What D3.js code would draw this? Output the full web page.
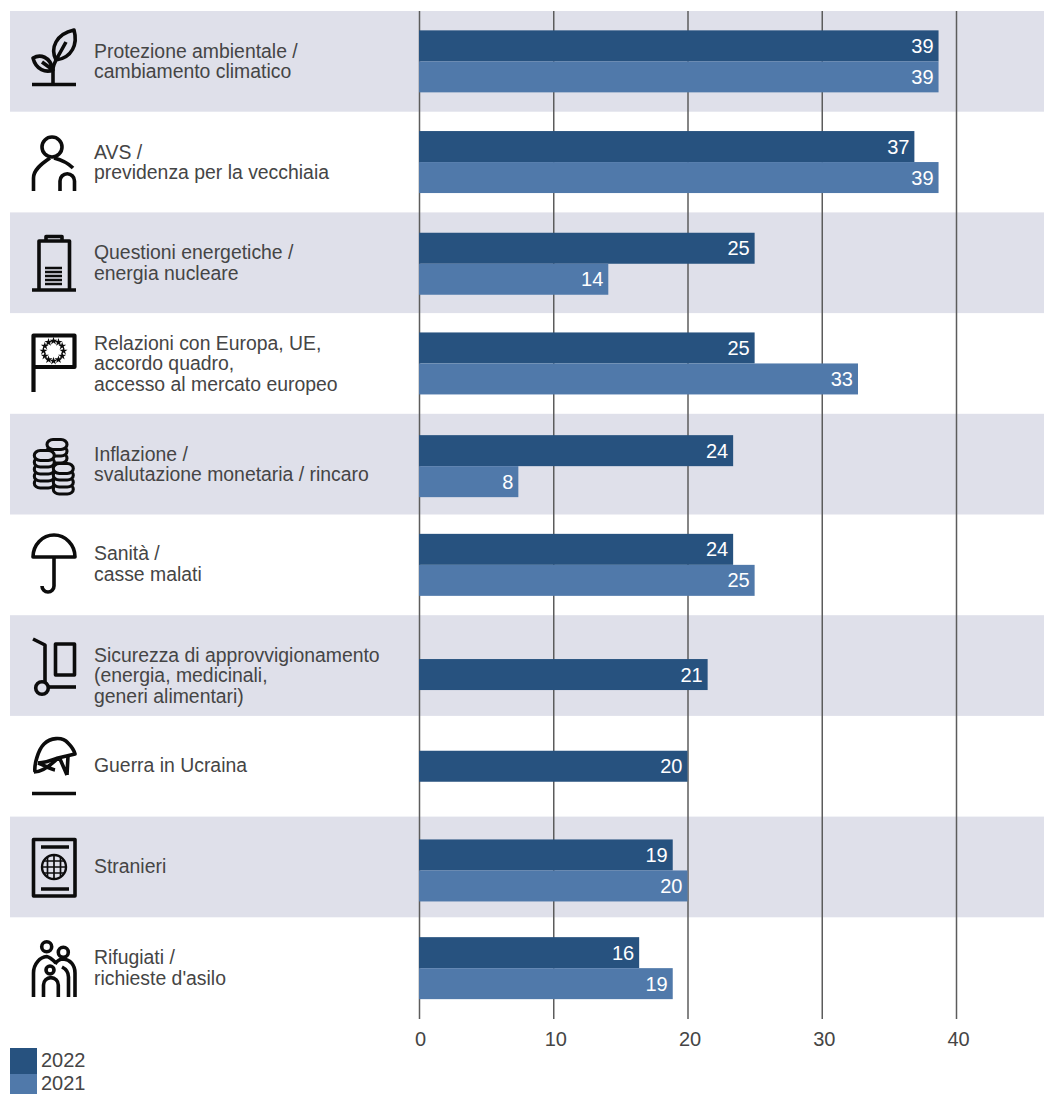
<!DOCTYPE html>
<html><head><meta charset="utf-8">
<script src="https://cdn.jsdelivr.net/npm/d3@7"></script>
<style>
html,body{margin:0;padding:0;background:#fff;overflow:hidden}
svg{display:block}
text{font-family:"Liberation Sans",Arial,sans-serif}
</style></head><body>
<svg id="chart" width="1044" height="1094"></svg>
<script>
const categories = [
  ["Protezione ambientale /","cambiamento climatico"],
  ["AVS /","previdenza per la vecchiaia"],
  ["Questioni energetiche /","energia nucleare"],
  ["Relazioni con Europa, UE,","accordo quadro,","accesso al mercato europeo"],
  ["Inflazione /","svalutazione monetaria / rincaro"],
  ["Sanità /","casse malati"],
  ["Sicurezza di approvvigionamento","(energia, medicinali,","generi alimentari)"],
  ["Guerra in Ucraina"],
  ["Stranieri"],
  ["Rifugiati /","richieste d'asilo"]
];
const values2022 = [38.7,36.9,25,25,23.4,23.4,21.5,20,18.9,16.4];
const values2021 = [38.7,38.7,14.1,32.7,7.4,25,null,null,20,18.9];
const labels2022 = [39,37,25,25,24,24,21,20,19,16];
const labels2021 = [39,39,14,33,8,25,null,null,20,19];
const xTicks = [0,10,20,30,40];
const years = ["2022","2021"];

const COLORS = {"2022":"#27527f","2021":"#5079aa"};
const BAND = "#dfe0ea", GRID = "#5c5c5c", TEXT = "#454545", INK = "#0c0c0c";
const barNudge = [0,0,1,0,2,0,9,0,3.5,0.5];
const labelNudge = [0,0,0,0,0,-1,10,-1,-1,0];

const svg = d3.select("#chart");
const x = d3.scaleLinear().domain([0,40]).range([419,956]);
const y = d3.scaleBand().domain(d3.range(categories.length)).range([11,1018]);
const BAR_H = 31;

svg.append("g").selectAll("rect")
  .data(d3.range(categories.length).filter(i=>i%2===0))
  .join("rect")
  .attr("x",10).attr("width",1034)
  .attr("y",i=>y(i)).attr("height",y.bandwidth()).attr("fill",BAND);

const axis = d3.axisBottom(x).tickValues(xTicks).tickSize(1008).tickPadding(13).tickFormat(d3.format("d"));
const ag = svg.append("g").attr("transform","translate(0,11)").call(axis);
ag.select(".domain").remove();
ag.selectAll(".tick line").attr("stroke",GRID).attr("stroke-width",1.5);
ag.selectAll(".tick text").attr("fill",TEXT).style("font-size","20px")
  .attr("dx",d=>d===0?1:2);

const rows = categories.map((c,i)=>({i,c,a:values2022[i],b:values2021[i],la:labels2022[i],lb:labels2021[i]}));
const barG = svg.append("g");
rows.forEach(r=>{
  const cy = y(r.i)+y.bandwidth()/2+barNudge[r.i];
  const both = r.b!==null;
  const items = both
    ? [{v:r.a,l:r.la,yr:"2022",t:cy-BAR_H},{v:r.b,l:r.lb,yr:"2021",t:cy}]
    : [{v:r.a,l:r.la,yr:"2022",t:cy-BAR_H/2}];
  items.forEach(d=>{
    barG.append("rect").attr("x",x(0)).attr("y",d.t)
      .attr("width",x(d.v)-x(0)).attr("height",BAR_H).attr("fill",COLORS[d.yr]);
    barG.append("text").attr("x",x(d.v)-5).attr("y",d.t+BAR_H/2)
      .attr("dy","0.35em").attr("text-anchor","end").attr("fill","#fff")
      .style("font-size","20px").text(d.l);
  });
});

const lab = svg.append("g");
rows.forEach(r=>{
  const cy = y(r.i)+y.bandwidth()/2+labelNudge[r.i];
  const n = r.c.length, lh = 20.6;
  r.c.forEach((s,j)=>{
    lab.append("text").attr("x",94).attr("y",cy+(j-(n-1)/2)*lh)
      .attr("dy","0.35em").attr("fill",TEXT).style("font-size","19.4px").text(s);
  });
});

// icons (glyph geometry, page coordinates)
const ic = svg.append("g").attr("fill","none").attr("stroke",INK).attr("stroke-width",3.6)
  .attr("stroke-linecap","butt").attr("stroke-linejoin","round");
const P = (d,g=ic)=>g.append("path").attr("d",d);

// plant
P("M32 84.5H76 M53 84.5V66");
P("M56 60C50 48 56 34 74 30C78 44 72 58 56 60Z M53 68C54 64 55 62 56 60L66 42");
P("M53 70C46 73 36 70 33 58C40 54 50 56 53 70Z M42 62L53 70");
// person
ic.append("circle").attr("cx",52).attr("cy",147).attr("r",10);
P("M33.5 191V178C33.5 170 41 164 50 158 M54 158C62 160 69 164 73 168");
P("M60 191V181A7 7 0 0 1 74.5 181V191");
// battery
P("M32 290H76 M39 290V241H69.5V290 M46 241V236.5H62V241");
ic.append("g").attr("stroke-width",2.5).call(g=>{
  [268,272,276,280,284].forEach(v=>g.append("path").attr("d",`M45 ${v}H62`));
});
// flag
P("M33.5 392V335.5H74.5V367H33.5").attr("stroke-width",4.2);
const star = d3.symbol().type(d3.symbolStar).size(20);
d3.range(12).forEach(k=>{
  const a = k/12*2*Math.PI;
  ic.append("path").attr("d",star()).attr("fill",INK).attr("stroke","none")
    .attr("transform",`translate(${53.5+10*Math.cos(a)},${351+10*Math.sin(a)})`);
});
// coins
function stack(cx,top,n,fill){
  d3.range(n-1,-1,-1).forEach(k=>{
    ic.append("rect").attr("x",cx-10).attr("y",top+k*7).attr("width",20).attr("height",k===0?10:9.5)
      .attr("rx",6).attr("fill",fill).attr("stroke-width",3.1);
  });
}
stack(57,439.5,4,BAND);
stack(44.3,450.5,5,BAND);
stack(63.3,463.5,4,BAND);
// umbrella
P("M33 557A21 22 0 0 1 75 557Z M54 557V586A6 6 0 0 1 42 586");
// trolley
P("M33 639L45 645V682");
ic.append("circle").attr("cx",42).attr("cy",688).attr("r",6.3);
P("M48 687H76");
P("M55.5 644H74.5V675H55.5Z");
// helmet
P("M32 793.5H76");
P("M35 772C34 765 38 750 44 744C50 738 62 736 68 743C72 747 74 750 75 754L58 758C50 761 44 763 38 763");
P("M34 772C42 772 50 766 58 758 M38 763C44 765 50 769 55 770 M60 759L67 775 M68 756L67 775");
// passport
P("M33.5 839.5H75V896H33.5Z");
P("M41 847H69 M41 889H69");
ic.append("g").attr("stroke-width",1.7).call(g=>{
  g.append("circle").attr("cx",54).attr("cy",867).attr("r",12).attr("stroke-width",2.4);
  g.append("path").attr("d","M42 867H66 M44 861H64 M44 873H64 M54 855V879 M47.5 857V877 M60.5 857V877");
});
// refugees
ic.append("circle").attr("cx",46.7).attr("cy",946.7).attr("r",5);
ic.append("circle").attr("cx",63.3).attr("cy",952.3).attr("r",5);
ic.append("circle").attr("cx",50).attr("cy",970).attr("r",4);
P("M33.5 997V973C33.5 964 40 957 46.7 956.5C50 957 53 960 56 963");
P("M75 997V973C75 965 70 959.5 63.3 959C60 959 57 961 55 964");
P("M43.5 997V985A7.4 7.4 0 0 1 58.3 985V997");
P("M68.5 997V977C68.5 972 66 969 62 967");

// legend
const lg = svg.append("g");
years.forEach((yr,i)=>{
  lg.append("rect").attr("x",10).attr("y",1048+i*26).attr("width",27).attr("height",26).attr("fill",COLORS[yr]);
  lg.append("text").attr("x",41).attr("y",1059.5+i*23).attr("dy","0.36em")
    .attr("fill",TEXT).style("font-size","20px").text(yr);
});
</script>
</body></html>
